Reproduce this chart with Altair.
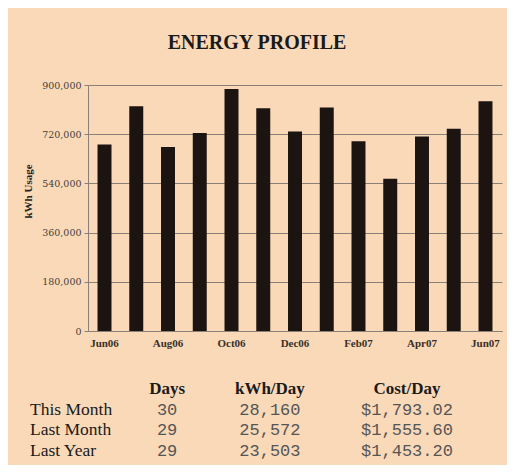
import altair as alt
import pandas as pd

# ---- data ----
months = ["Jun06", "Jul06", "Aug06", "Sep06", "Oct06", "Nov06", "Dec06",
          "Jan07", "Feb07", "Mar07", "Apr07", "May07", "Jun07"]
kwh_usage = [682000, 822000, 673000, 724000, 885000, 815000, 730000,
             818000, 694000, 557000, 712000, 740000, 841000]
month_labels = ["Jun06", "Aug06", "Oct06", "Dec06", "Feb07", "Apr07", "Jun07"]
y_ticks = [0, 180000, 360000, 540000, 720000, 900000]

row_labels = ["This Month", "Last Month", "Last Year"]
col_headers = ["Days", "kWh/Day", "Cost/Day"]
days = ["30", "29", "29"]
kwh_per_day = ["28,160", "25,572", "23,503"]
cost_per_day = ["$1,793.02", "$1,555.60", "$1,453.20"]

# ---- tables ----
bar_df = pd.DataFrame({"month": months, "kwh": kwh_usage})

cells = []
for h in col_headers:
    cells.append({"row": "hdr", "col": h, "text": h, "kind": "header"})
for i, lab in enumerate(row_labels):
    cells.append({"row": lab, "col": "label", "text": lab, "kind": "label"})
    for h, vals in zip(col_headers, [days, kwh_per_day, cost_per_day]):
        cells.append({"row": lab, "col": h, "text": vals[i], "kind": "value"})
table_df = pd.DataFrame(cells)

BG = "#F9D9B8"
SERIF = "Liberation Serif"

bars = alt.Chart(bar_df).mark_bar(color="#1c1410").encode(
    x=alt.X("month:N", sort=months,
            scale=alt.Scale(paddingInner=0.56, paddingOuter=0.3),
            axis=alt.Axis(values=month_labels, labelAngle=0, ticks=False,
                          title=None, domainColor="#8a8078", domainWidth=1.2,
                          labelFont=SERIF, labelFontSize=11, labelFontWeight="bold",
                          labelColor="#3a3028", labelPadding=6)),
    y=alt.Y("kwh:Q", scale=alt.Scale(domain=[0, 900000], nice=False),
            axis=alt.Axis(values=y_ticks, format=",d", title="kWh Usage",
                          titleFont=SERIF, titleFontSize=11, titleFontWeight="bold",
                          titleColor="#222222", titlePadding=8, titleY=106,
                          labelFont="DejaVu Serif", labelFontSize=9.5,
                          labelColor="#45403a", labelPadding=3,
                          tickSize=4, tickColor="#8a8078",
                          domainColor="#8a8078", gridColor="#8a8078",
                          gridWidth=1, grid=True)),
).properties(
    width=414, height=246,
    title=alt.TitleParams("ENERGY PROFILE", font=SERIF, fontSize=20,
                          fontWeight="bold", color="#1a1a1a", offset=27, dx=-38),
)

slots = ["label", "s1", "s2", "s3", "Days", "s5", "s6", "kWh/Day",
         "s8", "s9", "s10", "Cost/Day"]
xenc = alt.X("col:N", scale=alt.Scale(type="point", domain=slots,
                                      range=[-58, 319], padding=0),
             axis=None)
yenc = alt.Y("row:N", scale=alt.Scale(type="point",
                                      domain=["hdr"] + row_labels, padding=0),
             axis=None)

base = alt.Chart(table_df).encode(x=xenc, y=yenc, text="text:N")
header = base.transform_filter(alt.datum.kind == "header").mark_text(
    font=SERIF, fontSize=17, fontWeight="bold", color="#1a1a1a", align="center")
labels = base.transform_filter(alt.datum.kind == "label").mark_text(
    font=SERIF, fontSize=17.5, color="#1a1a1a", align="left")
values = base.transform_filter(alt.datum.kind == "value").mark_text(
    font="Liberation Mono", fontSize=17, color="#555555", align="center")

table = alt.layer(header, labels, values).properties(width=414, height=62)

chart = alt.vconcat(bars, table, spacing=32).properties(
    background=BG,
    padding={"left": 14, "top": 25, "right": 5, "bottom": 5},
).configure_view(stroke=None)

chart.save("out.html", embed_options={"renderer": "svg", "actions": False})
